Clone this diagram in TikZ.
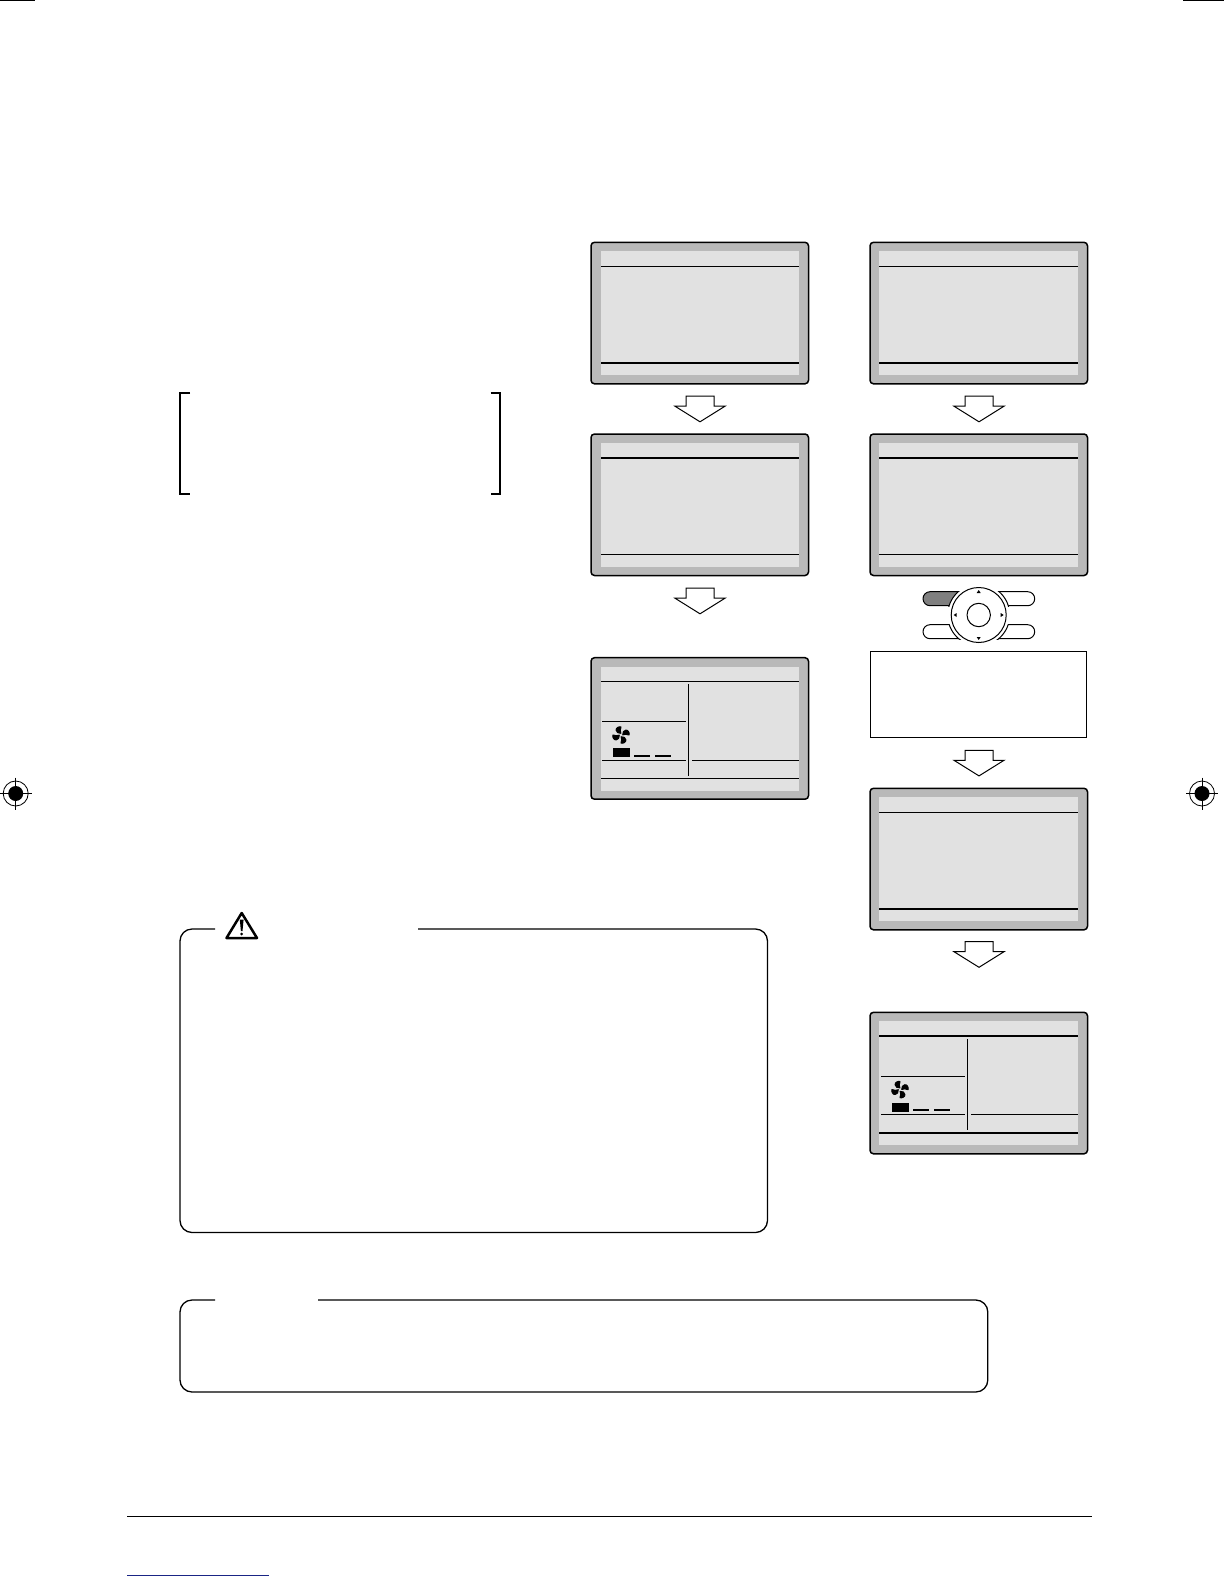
\documentclass[tikz,border=0pt]{standalone}
\definecolor{bezel}{HTML}{B9B9B9}
\definecolor{lcd}{HTML}{E1E1E1}
\definecolor{keygray}{HTML}{7F7F7F}
\definecolor{linkblue}{HTML}{1A2585}
\tikzset{
  bezelbox/.style={draw=black,line width=1.5pt,fill=bezel,rounded corners=3.5pt,minimum width=217.5pt,minimum height=141.5pt,inner sep=0pt,outer sep=0pt,anchor=north west},
  lcdbox/.style={fill=lcd,draw=none,minimum height=124pt,inner sep=0pt,outer sep=0pt,anchor=north west},
  thinrule/.style={line width=1pt},
  thickrule/.style={line width=2pt},
  flowarrow/.style={draw=black,line width=1pt,fill=white,line join=miter},
  panel/.style={draw=black,line width=1.3pt,rounded corners=12pt},
  bracketline/.style={draw=black,line width=2.2pt},
  keycap/.style={draw=black,line width=1pt,rounded corners=7pt},
  dpad/.style={draw=black,line width=1pt,fill=white},
  regmark/.style={draw=black,line width=.8pt},
  down/.pic={\path[flowarrow] (-14,0)--(14,0)--(14,10)--(25,10)--(0,25.6)--(-25,10)--(-14,10)--cycle;},
  fanblades/.pic={\foreach \a in {20,110,200,290}{\filldraw[black,line width=.9pt,line join=round,rotate=\a] (0.5,-1.6) .. controls (-2,-2.5) and (-3.5,-3.8) .. (-3,-6.2) .. controls (-2.7,-8.6) and (1.5,-9) .. (2.8,-7.6) .. controls (3.3,-6.8) and (1.2,-6.2) .. (1,-4.8) .. controls (0.9,-3.5) and (1,-2.5) .. (0.5,-1.6) -- cycle;}},
  target/.pic={
    \draw[regmark] (0,0) circle (12.5);
    \fill[black] (0,0) circle (7.5);
    \draw[regmark] (-16,0)--(16,0) (0,-16)--(0,16);
  }
}
% #1 name, #2 x, #3 y, #4 top rule style, #5 bottom rule style; \lcdinset = left inset of the LCD
\newcommand{\lcdscreen}[5]{
  \node[bezelbox] (#1) at (#2,#3) {};
  \node[lcdbox,minimum width=208pt-\lcdinset pt] (#1lcd) at (#2+\lcdinset,#3+9) {};
  \draw[#4] (#2+\lcdinset,#3+24) -- (#2+208,#3+24);
  \draw[#5] (#2+\lcdinset,#3+120.6) -- (#2+208,#3+120.6);
}
\newcommand{\statusdetail}[2]{
  \draw[thinrule] (#1+97.3,#2+26.5) -- (#1+97.3,#2+118);
  \draw[thinrule] (#1+11,#2+64.2) -- (#1+95,#2+64.2);
  \draw[thinrule] (#1+11,#2+102.5) -- (#1+95,#2+102.5);
  \draw[thinrule] (#1+101,#2+102.5) -- (#1+208,#2+102.5);
  \pic at (#1+30,#2+77.3) {fanblades};
  \fill[black] (#1+22,#2+90.6) rectangle (#1+39,#2+99.3);
  \draw[thickrule] (#1+43,#2+98) -- (#1+59,#2+98);
  \draw[thickrule] (#1+64,#2+98) -- (#1+80,#2+98);
}
\begin{document}
\begin{tikzpicture}[x=1pt,y=-1pt]
\useasboundingbox (0,0) rectangle (1224,1584);
% crop marks
\draw[line width=1.2pt] (0,.5) -- (35,.5);
\draw[line width=1.2pt] (1183,.5) -- (1224,.5);
\pic at (15.7,793.5) {target};
\pic at (1202,793.5) {target};
% left column
\def\lcdinset{10}
\lcdscreen{sa}{591}{242.3}{thinrule}{thickrule}
\pic at (700,396.2) {down};
\lcdscreen{sb}{591}{434}{thickrule}{thinrule}
\pic at (700,588.2) {down};
\lcdscreen{sc}{591}{657.7}{thinrule}{thinrule}
\statusdetail{591}{657.7}
% right column
\def\lcdinset{9}
\lcdscreen{sd}{870}{242.3}{thinrule}{thickrule}
\pic at (979,396.2) {down};
\lcdscreen{se}{870}{434}{thickrule}{thinrule}
% controller
\coordinate (hub) at (978.7,615);
\begin{scope}
  \path[clip] (921,591.2) rectangle (978.7,606.2);
  \path[keycap,fill=keygray] (923,591.7) rectangle (1000,605.7);
  \draw[dpad] (hub) circle (31);
\end{scope}
\begin{scope}
  \path[clip] (978.7,591.2) rectangle (1037,606.2);
  \draw[keycap,fill=white] (950,591.7) rectangle (1034.7,605.7);
  \draw[dpad] (hub) circle (31);
\end{scope}
\begin{scope}
  \path[clip] (921,624.2) rectangle (978.7,639.2);
  \draw[keycap,fill=white] (923,624.7) rectangle (1000,638.7);
  \draw[dpad] (hub) circle (31);
\end{scope}
\begin{scope}
  \path[clip] (978.7,624.2) rectangle (1037,639.2);
  \draw[keycap,fill=white] (950,624.7) rectangle (1034.7,638.7);
  \draw[dpad] (hub) circle (31);
\end{scope}
\path[draw=black,line width=1pt,fill=white] (hub) circle (27.5);
\draw[line width=1pt] (hub) circle (11.7);
\foreach \a in {0,90,180,270}{
  \fill[black,shift={(hub)},rotate=\a] (22,-2) -- (25,0) -- (22,2) -- cycle;
}
\draw[line width=1pt] (870.3,651.3) rectangle (1086.7,737.3);
\pic at (979,750.3) {down};
\lcdscreen{sf}{870}{788.3}{thinrule}{thickrule}
\pic at (979,941.7) {down};
\lcdscreen{sg}{870}{1012.3}{thickrule}{thickrule}
\statusdetail{870}{1012.3}
% bracket
\draw[bracketline] (190,392.7) -- (179.7,392.7) -- (179.7,494) -- (190,494);
\draw[bracketline] (490.5,392.7) -- (500.3,392.7) -- (500.3,494) -- (490.5,494);
% caution panel
\draw[panel] (215,929) -- (180,929) -- (180,1232.5) -- (767.5,1232.5) -- (767.5,929) -- (418,929);
\draw[line width=2.5pt,line join=round] (241.7,913) -- (257,938) -- (226.5,938) -- cycle;
\fill[black] (239.8,919.5) -- (243.6,919.5) -- (242.5,931) -- (240.9,931) -- cycle;
\fill[black] (241.7,934) circle (1.5);
% note panel
\draw[panel] (215,1300) -- (180,1300) -- (180,1392) -- (987.8,1392) -- (987.8,1300) -- (318,1300);
% footer
\draw[line width=1pt] (127,1516) -- (1092,1516);
\draw[linkblue,line width=1pt] (127,1575.3) -- (269,1575.3);
\end{tikzpicture}
\end{document}
